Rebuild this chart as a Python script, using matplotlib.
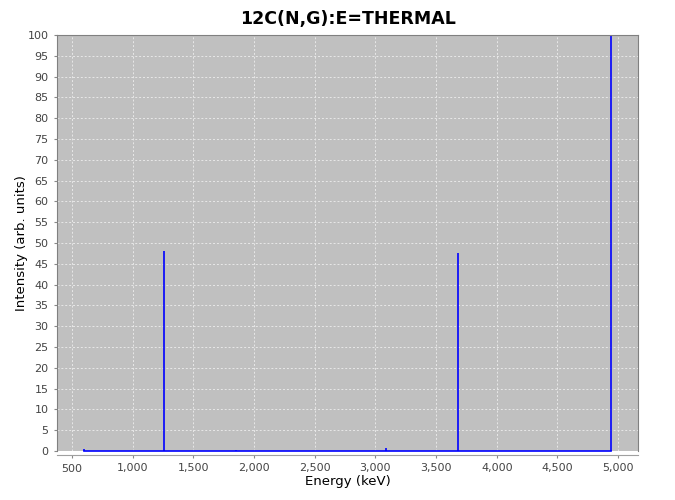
import matplotlib.pyplot as plt
from matplotlib.ticker import FuncFormatter, MultipleLocator

energies = [595.0, 1261.8, 1854.0, 3089.4, 3683.9, 4945.3]
intensities = [0.5, 48.0, 0.3, 0.8, 47.5, 100.0]

fig = plt.figure(figsize=(6.75, 5), dpi=100)
ax = fig.add_axes([0.0844, 0.098, 0.861, 0.832])
ax.set_facecolor('#c0c0c0')

ax.vlines(energies, 0, intensities, colors='#0000ff', linewidth=1.2)
ax.plot([min(energies), max(energies)], [0, 0], color='#0000ff', linewidth=1.2, clip_on=False)

ax.set_xlim(376, 5165)
ax.set_ylim(0, 100)
ax.xaxis.set_major_locator(MultipleLocator(500))
ax.yaxis.set_major_locator(MultipleLocator(5))
ax.xaxis.set_major_formatter(FuncFormatter(lambda v, p: f'{int(v):,}'))
ax.grid(True, color='#e8e8e8', linestyle=(0, (2, 2)), linewidth=0.7)
ax.set_axisbelow(True)

for s in ax.spines.values():
    s.set_color('#808080')
ax.spines['bottom'].set_position(('outward', 3))
ax.spines['bottom'].set_color('#a0a0a0')
ax.tick_params(labelsize=8, colors='#888888', labelcolor='#444444', length=2.5)

ax.set_xlabel('Energy (keV)', fontsize=9.5, labelpad=1)
ax.set_ylabel('Intensity (arb. units)', fontsize=9.5, labelpad=0)
ax.set_title('12C(N,G):E=THERMAL', fontsize=12.5, fontweight='bold', pad=8)

fig.savefig('out.png', dpi=100)
